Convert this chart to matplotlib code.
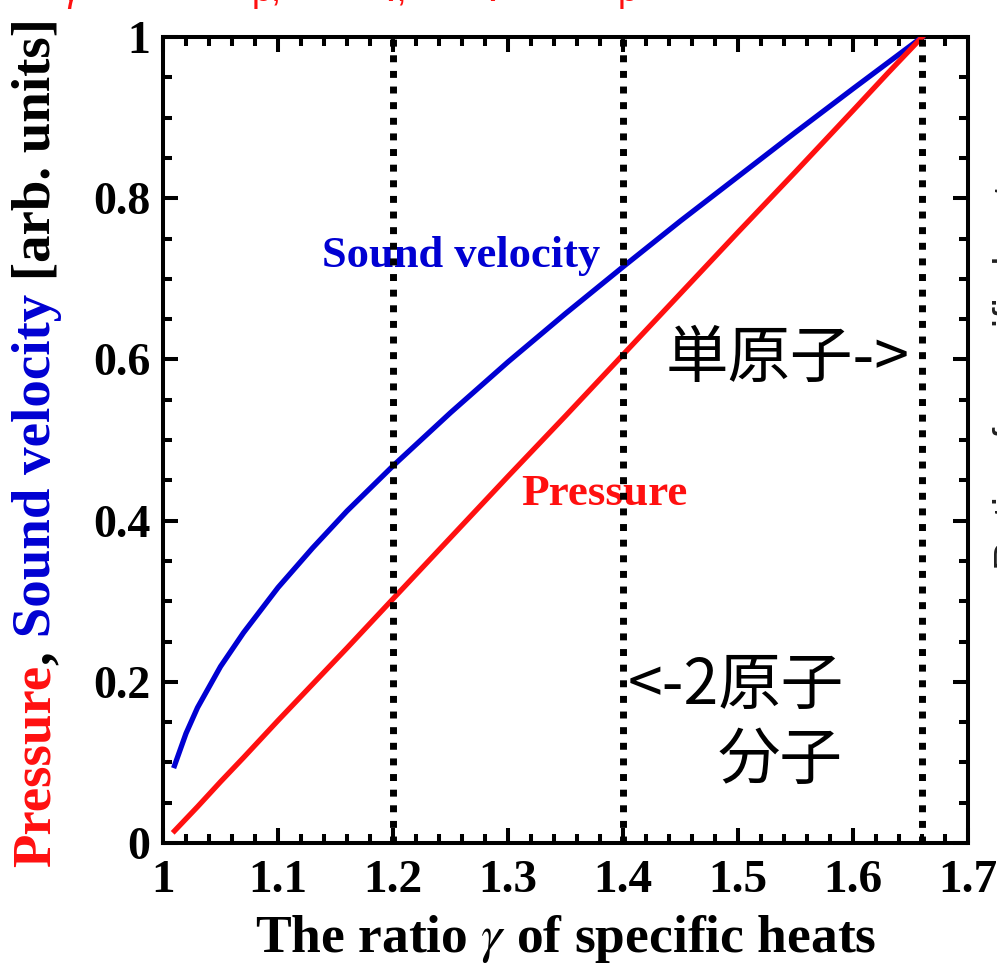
import matplotlib
matplotlib.use("Agg")
import matplotlib.pyplot as plt
from matplotlib.text import Annotation
from matplotlib.ticker import MultipleLocator, FixedLocator, FixedFormatter

# values
gamma = [1.01, 1.02, 1.03, 1.05, 1.07, 1.10, 1.13, 1.16, 1.20, 1.25, 1.30,
         1.35, 1.40, 1.45, 1.50, 1.55, 1.60, 1.63, 1.66]
pressure = [0.015, 0.030, 0.045, 0.076, 0.106, 0.152, 0.197, 0.242, 0.303, 0.379, 0.455,
            0.530, 0.606, 0.682, 0.758, 0.833, 0.909, 0.955, 1.000]
sound = [0.096, 0.136, 0.168, 0.219, 0.261, 0.317, 0.366, 0.412, 0.468, 0.534, 0.597,
         0.657, 0.715, 0.772, 0.827, 0.882, 0.936, 0.968, 1.000]
marks = [1.2, 1.4, 1.66]
xticks = [1.0, 1.1, 1.2, 1.3, 1.4, 1.5, 1.6, 1.7]
xticklabels = ["1", "1.1", "1.2", "1.3", "1.4", "1.5", "1.6", "1.7"]
yticks = [0, 0.2, 0.4, 0.6, 0.8, 1.0]
yticklabels = ["0", "0.2", "0.4", "0.6", "0.8", "1"]

RED = "#ff1010"
BLUE = "#0000d2"
serif = "Liberation Serif"
jp = "Noto Sans CJK JP"
plt.rcParams["mathtext.fontset"] = "stix"

fig = plt.figure(figsize=(9.97, 9.64), dpi=100)
ax = fig.add_axes([0.1635, 0.1255, 0.8075, 0.836])

ax.plot(gamma, sound, color=BLUE, lw=3.8, zorder=3)
ax.plot(gamma, pressure, color=RED, lw=3.8, zorder=3)
for m in marks:
    ax.axvline(m, color="black", lw=5, ls=(0, (1, 1.25)), dash_capstyle="butt", zorder=5)

ax.set_xlim(1.0, 1.7)
ax.set_ylim(0, 1.0)
ax.xaxis.set_major_locator(FixedLocator(xticks))
ax.xaxis.set_major_formatter(FixedFormatter(xticklabels))
ax.yaxis.set_major_locator(FixedLocator(yticks))
ax.yaxis.set_major_formatter(FixedFormatter(yticklabels))
ax.xaxis.set_minor_locator(MultipleLocator(0.02))
ax.yaxis.set_minor_locator(MultipleLocator(0.05))
ax.tick_params(which="both", direction="in", top=True, right=True, width=2.9)
ax.tick_params(which="major", length=11)
ax.tick_params(which="minor", length=6.5)
ax.tick_params(axis="x", pad=12)
ax.tick_params(axis="y", pad=9)
for sp in ax.spines.values():
    sp.set_linewidth(2.9)
for lab in ax.get_xticklabels():
    lab.set_fontfamily(serif); lab.set_fontweight("bold"); lab.set_fontsize(34)
for lab in ax.get_yticklabels():
    lab.set_fontfamily(serif); lab.set_fontweight("bold"); lab.set_fontsize(33)

ax.set_xlabel(r"The ratio $\gamma$ of specific heats", fontfamily=serif,
              fontweight="bold", fontsize=38.5, labelpad=8)

# curve labels
ax.text(1.138, 0.715, "Sound velocity", color=BLUE, fontfamily=serif,
        fontweight="bold", fontsize=32, zorder=2)
ax.text(1.311, 0.42, "Pressure", color=RED, fontfamily=serif,
        fontweight="bold", fontsize=32.5, zorder=2)

# Japanese notes
ax.text(1.437, 0.578, "単原子->", fontfamily=jp, fontsize=45, zorder=2)
ax.text(1.404, 0.172, "<-2原子", fontfamily=jp, fontsize=45, zorder=2)
ax.text(1.482, 0.080, "分子", fontfamily=jp, fontsize=45, zorder=2)

# multi-colour rotated y label, pieces chained end to end
parts = [("Pressure", RED), (",", "black"), (" Sound velocity", BLUE), (" [arb. units]", "black")]
anchor = fig.text(0.012, 0.101, parts[0][0], color=parts[0][1], rotation=90,
                  ha="left", va="bottom", fontfamily=serif, fontweight="bold", fontsize=39.5)
for s, c in parts[1:]:
    anchor = fig.add_artist(Annotation(
        s, xy=(0, 1), xycoords=anchor, va="bottom", ha="left", rotation=90,
        color=c, fontfamily=serif, fontweight="bold", fontsize=39.5))

# texts cut off at the figure edges in the reference
for x, s in [(0.062, "γ"), (0.252, "p,"), (0.383, "v,"), (0.485, "v"), (0.620, "p")]:
    fig.text(x, 0.999, s, color=RED, fontsize=26, va="baseline",
             fontfamily="Liberation Sans")
fig.text(0.9955, 0.62, "Ratio of specific heats", color="#202020", rotation=90,
         ha="left", va="center", fontsize=30, fontfamily="Liberation Sans")

fig.savefig("out.png", dpi=100)
